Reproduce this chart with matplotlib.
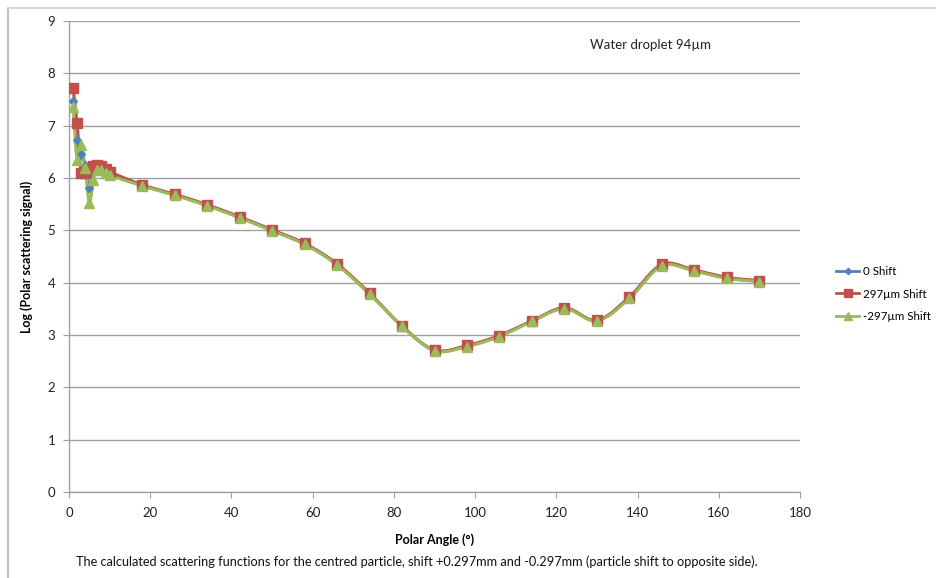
import matplotlib.pyplot as plt
import numpy as np
from matplotlib.lines import Line2D

plt.rcParams['font.family'] = ['Lato', 'DejaVu Sans']

# polar angles (deg)
angle = [1, 2, 3, 4, 5, 6, 7, 8, 9, 10, 18, 26, 34, 42, 50, 58, 66, 74,
         82, 90, 98, 106, 114, 122, 130, 138, 146, 154, 162, 170]

# log scattering signal
shift_0 = [7.48, 6.73, 6.45, 6.25, 5.80, 6.15, 6.25, 6.20, 6.15, 6.10,
           5.86, 5.68, 5.48, 5.25, 5.00, 4.74, 4.35, 3.79,
           3.17, 2.71, 2.79, 2.98, 3.27, 3.51, 3.28, 3.71, 4.33, 4.23, 4.09, 4.03]
shift_p297 = [7.72, 7.05, 6.10, 6.10, 6.15, 6.22, 6.25, 6.22, 6.18, 6.12,
              5.87, 5.69, 5.49, 5.26, 5.01, 4.75, 4.36, 3.80,
              3.17, 2.71, 2.80, 2.99, 3.27, 3.52, 3.28, 3.73, 4.35, 4.24, 4.10, 4.04]
shift_m297 = [7.36, 6.35, 6.63, 6.20, 5.52, 5.97, 6.15, 6.15, 6.10, 6.05,
              5.85, 5.67, 5.47, 5.24, 4.99, 4.73, 4.34, 3.78,
              3.17, 2.70, 2.78, 2.97, 3.26, 3.50, 3.27, 3.70, 4.32, 4.22, 4.08, 4.02]

series_names = ['0 Shift', '297\u00b5m Shift', '-297\u00b5m Shift']
colors = ['#4F81BD', '#C0504D', '#9BBB59']
markers = ['D', 's', '^']
msizes = [4, 7, 7]


def smooth(x, y, n=20):
    # catmull-rom style smoothing like Excel "smoothed line"
    x = np.asarray(x, float)
    y = np.asarray(y, float)
    px = np.concatenate([[2 * x[0] - x[1]], x, [2 * x[-1] - x[-2]]])
    py = np.concatenate([[2 * y[0] - y[1]], y, [2 * y[-1] - y[-2]]])
    xs, ys = [], []
    t = np.linspace(0, 1, n, endpoint=False)
    for i in range(1, len(px) - 2):
        p0, p1, p2, p3 = px[i - 1], px[i], px[i + 1], px[i + 2]
        q0, q1, q2, q3 = py[i - 1], py[i], py[i + 1], py[i + 2]
        # bezier control points
        c1x, c1y = p1 + (p2 - p0) / 6, q1 + (q2 - q0) / 6
        c2x, c2y = p2 - (p3 - p1) / 6, q2 - (q3 - q1) / 6
        bx = (1 - t) ** 3 * p1 + 3 * (1 - t) ** 2 * t * c1x + 3 * (1 - t) * t ** 2 * c2x + t ** 3 * p2
        by = (1 - t) ** 3 * q1 + 3 * (1 - t) ** 2 * t * c1y + 3 * (1 - t) * t ** 2 * c2y + t ** 3 * q2
        xs.extend(bx)
        ys.extend(by)
    xs.append(x[-1])
    ys.append(y[-1])
    return np.array(xs), np.array(ys)


fig = plt.figure(figsize=(9.37, 5.78), dpi=100)
ax = fig.add_axes([69 / 937, 1 - 492 / 578, (800 - 69) / 937, (492 - 21) / 578])

for vals, c, m, ms, name in zip([shift_0, shift_p297, shift_m297], colors, markers, msizes, series_names):
    sx, sy = smooth(angle, vals)
    ax.plot(sx, sy, color=c, lw=2.2, zorder=2)
    ax.plot(angle, vals, ls='none', marker=m, ms=ms, color=c, mec=c, zorder=3)

ax.set_xlim(0, 180)
ax.set_ylim(0, 9)
ax.set_xticks(np.arange(0, 181, 20))
ax.set_yticks(np.arange(0, 10, 1))
ax.grid(axis='y', color='#A0A0A0', lw=1)
ax.set_axisbelow(True)
for s in ['top', 'right']:
    ax.spines[s].set_visible(False)
for s in ['left', 'bottom']:
    ax.spines[s].set_color('#A0A0A0')
    ax.spines[s].set_linewidth(1)
ax.tick_params(axis='both', colors='#A0A0A0', labelcolor='#222222', labelsize=9.5,
               length=4, direction='out')
ax.tick_params(axis='x', pad=7)
ax.tick_params(axis='y', pad=6)

ax.set_xlabel('Polar Angle (\u00b0)', fontsize=9, fontweight='bold', labelpad=10)
ax.set_ylabel('Log (Polar scattering signal)', fontsize=9, fontweight='bold', labelpad=10)

fig.text(590 / 937, 1 - 45 / 578, 'Water droplet 94\u00b5m', fontsize=9.5, color='#222222',
         ha='left', va='center')

handles = [Line2D([0], [0], color=c, lw=2, marker=m, ms=ms * 0.8) for c, m, ms in zip(colors, markers, msizes)]
fig.legend(handles, series_names, loc='center left', bbox_to_anchor=(836 / 937, 1 - 294 / 578),
           frameon=False, fontsize=8.3, handlelength=2.0, handletextpad=0.3, labelspacing=1.0,
           borderaxespad=0, borderpad=0)

fig.text(76 / 937, 1 - 562 / 578,
         'The calculated scattering functions for the centred particle, shift +0.297mm and -0.297mm (particle shift to opposite side).',
         fontsize=9.2, ha='left', va='center', color='#111111')

# outer frame (left and top edges)
fig.add_artist(Line2D([8 / 937, 8 / 937], [0, 1 - 8 / 578], color='#C0C0C0', lw=1.5, transform=fig.transFigure))
fig.add_artist(Line2D([8 / 937, 1], [1 - 8 / 578, 1 - 8 / 578], color='#D8D8D8', lw=1.5, transform=fig.transFigure))

fig.savefig('out.png', dpi=100)
